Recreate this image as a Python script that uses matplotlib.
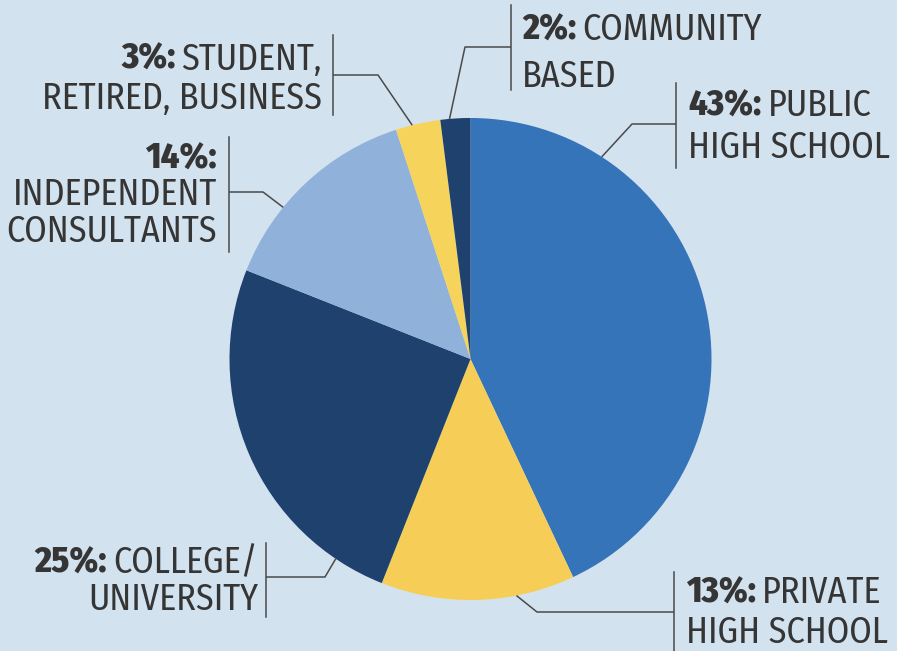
import numpy as np
import matplotlib.pyplot as plt
from matplotlib import font_manager

# share of respondents by workplace
categories = ['PUBLIC HIGH SCHOOL', 'PRIVATE HIGH SCHOOL', 'COLLEGE/UNIVERSITY',
              'INDEPENDENT CONSULTANTS', 'STUDENT, RETIRED, BUSINESS', 'COMMUNITY BASED']
shares = [43, 13, 25, 14, 3, 2]
colors = ['#3574b8', '#f6cd57', '#1e416d', '#8fb1da', '#f6d45c', '#1e416d']

# label text: (bold part, regular part) per line
label_lines = [
    [('43%:', 'PUBLIC'), ('', 'HIGH SCHOOL')],
    [('13%:', 'PRIVATE'), ('', 'HIGH SCHOOL')],
    [('25%:', 'COLLEGE/'), ('', 'UNIVERSITY')],
    [('14%:', ''), ('', 'INDEPENDENT'), ('', 'CONSULTANTS')],
    [('3%:', 'STUDENT,'), ('', 'RETIRED, BUSINESS')],
    [('2%:', 'COMMUNITY'), ('', 'BASED')],
]

# layout (pixel space, y down): anchor angle on rim, elbow, bar x, bar span, text x, align, line centres
layout = [
    dict(ang=57, elbow=(632, 124), bar=676, span=(83, 168), tx=688, ha='left', ys=[103, 145]),
    dict(ang=-79, elbow=(537, 612), bar=674, span=(572, 660), tx=686, ha='left', ys=[590, 630]),
    dict(ang=-124, elbow=(325, 577), bar=266, span=(543, 617), tx=258, ha='right', ys=[561, 597]),
    dict(ang=141, elbow=(263, 192), bar=229, span=(137, 252), tx=217, ha='right', ys=[156, 192, 229]),
    dict(ang=104, elbow=(378, 75), bar=333, span=(35, 115), tx=322, ha='right', ys=[57, 96]),
    dict(ang=95, elbow=(465, 47), bar=511, span=(5, 90), tx=522, ha='left', ys=[27, 74]),
]

bg = '#d3e2ef'
txt_col = '#353535'
line_col = '#4a4a4a'

installed = {f.name for f in font_manager.fontManager.ttflist}
wanted = ['Fira Sans Condensed', 'Roboto Condensed', 'Open Sans Condensed',
          'Liberation Sans Narrow', 'Sofia Sans Condensed']
fams = [f for f in wanted if f in installed] + ['DejaVu Sans']
plt.rcParams['font.family'] = fams
fsize = 26
cap_half = 0.70 * fsize * 100 / 72 / 2
gap = 4.5

fig = plt.figure(figsize=(8.97, 6.51), dpi=100)
fig.patch.set_facecolor(bg)
ax = fig.add_axes([0, 0, 1, 1])
ax.set_facecolor(bg)

cx, cy, r = 470.5, 359, 241
# y axis is flipped below, so counterclockwise from -90 reads clockwise from the top
ax.pie(shares, colors=colors, startangle=-90, counterclock=True,
       center=(cx, cy), radius=r, wedgeprops=dict(linewidth=0))
ax.set_xlim(0, 897)
ax.set_ylim(651, 0)
ax.set_aspect('auto')
ax.axis('off')

for lines, lay in zip(label_lines, layout):
    a = np.deg2rad(lay['ang'])
    px, py = cx + r * np.cos(a), cy - r * np.sin(a)
    ex, ey = lay['elbow']
    ax.plot([px, ex, lay['bar']], [py, ey, ey], color=line_col, lw=1.1,
            solid_capstyle='butt')
    ax.plot([lay['bar'], lay['bar']], lay['span'], color=line_col, lw=1.1)

    for (bold, rest), yc in zip(lines, lay['ys']):
        yb = yc + cap_half
        if lay['ha'] == 'left':
            if bold:
                t = ax.text(lay['tx'], yb, bold, ha='left', va='baseline',
                            fontsize=fsize, fontweight='heavy', color=txt_col)
                if rest:
                    ax.annotate(rest, xy=(1, 0), xycoords=t, xytext=(gap, 0),
                                textcoords='offset points', ha='left', va='bottom',
                                fontsize=fsize, color=txt_col)
            else:
                ax.text(lay['tx'], yb, rest, ha='left', va='baseline',
                        fontsize=fsize, color=txt_col)
        else:
            if rest:
                t = ax.text(lay['tx'], yb, rest, ha='right', va='baseline',
                            fontsize=fsize, color=txt_col)
                if bold:
                    ax.annotate(bold, xy=(0, 0), xycoords=t, xytext=(-gap, 0),
                                textcoords='offset points', ha='right', va='bottom',
                                fontsize=fsize, fontweight='heavy', color=txt_col)
            else:
                ax.text(lay['tx'], yb, bold, ha='right', va='baseline',
                        fontsize=fsize, fontweight='heavy', color=txt_col)

plt.savefig('out.png', dpi=100, facecolor=bg)
